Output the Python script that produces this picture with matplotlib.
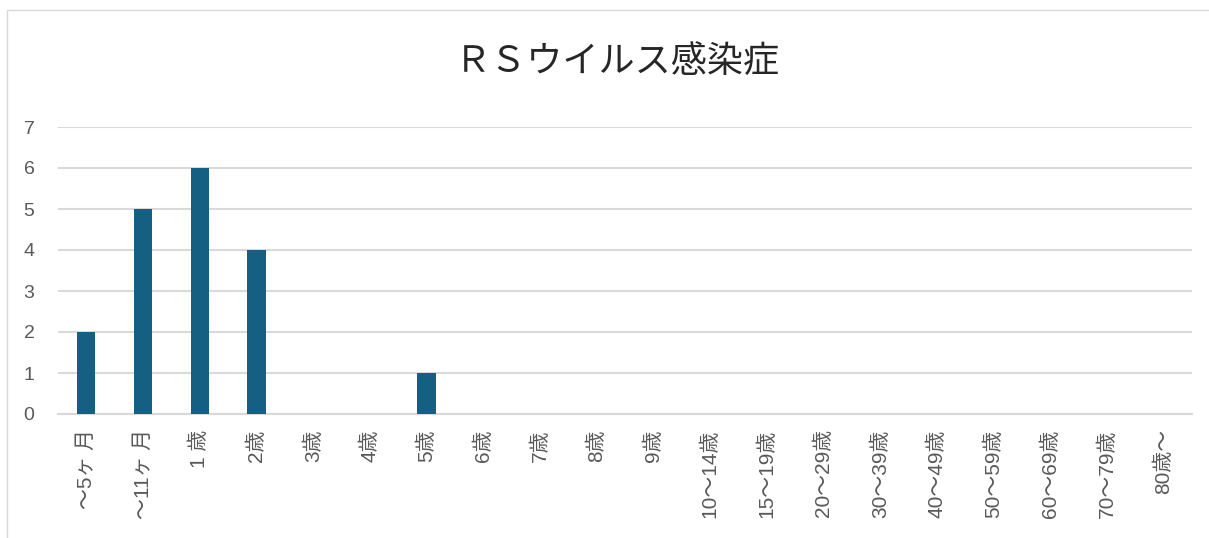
import matplotlib
matplotlib.use("Agg")
import matplotlib.pyplot as plt
from matplotlib.patches import Rectangle

plt.rcParams['font.family'] = ['Liberation Sans', 'Noto Sans CJK JP', 'DejaVu Sans']

TITLE = "ＲＳウイルス感染症"
categories = ["～5ヶ 月", "～11ヶ 月", "1 歳", "2歳", "3歳", "4歳", "5歳", "6歳", "7歳", "8歳",
              "9歳", "10～14歳", "15～19歳", "20～29歳", "30～39歳", "40～49歳", "50～59歳",
              "60～69歳", "70～79歳", "80歳～"]
counts = [2, 5, 6, 4, 0, 0, 1, 0, 0, 0, 0, 0, 0, 0, 0, 0, 0, 0, 0, 0]
yticks = [0, 1, 2, 3, 4, 5, 6, 7]

BAR = "#156082"
GRID = "#D9D9D9"
TXT = "#595959"

fig = plt.figure(figsize=(12.09, 5.38), dpi=100)
fig.patch.set_facecolor("white")
# chart frame
fig.patches.append(Rectangle((7 / 1209, -0.1), 1.2, 1 - 10 / 538 + 0.1, transform=fig.transFigure,
                             fill=False, edgecolor=GRID, lw=1.0))

ax = fig.add_axes([58 / 1209, 1 - 414 / 538, (1192 - 58) / 1209, (414 - 127) / 538])
x = range(len(categories))
ax.bar(x, counts, width=0.32, color=BAR, zorder=3)
ax.set_xlim(-0.5, len(categories) - 0.5)
ax.set_ylim(0, 7)
ax.set_yticks(yticks)
ax.yaxis.grid(True, color=GRID, lw=1.5, zorder=0)
for s in ["top", "right", "left"]:
    ax.spines[s].set_visible(False)
ax.spines["bottom"].set_color(GRID)
ax.spines["bottom"].set_linewidth(1.5)
ax.set_xticks(list(x))
ax.set_xticklabels(categories, rotation=90, va="top", ha="center")
ax.tick_params(axis="both", length=0, colors=TXT)
ax.tick_params(axis="y", pad=17, labelsize=14)
ax.tick_params(axis="x", pad=11, labelsize=15)

fig.text(617 / 1209, 1 - 62 / 538, TITLE, ha="center", va="center", fontsize=26, color="#262626")

fig.savefig("out.png", dpi=100, facecolor="white")
